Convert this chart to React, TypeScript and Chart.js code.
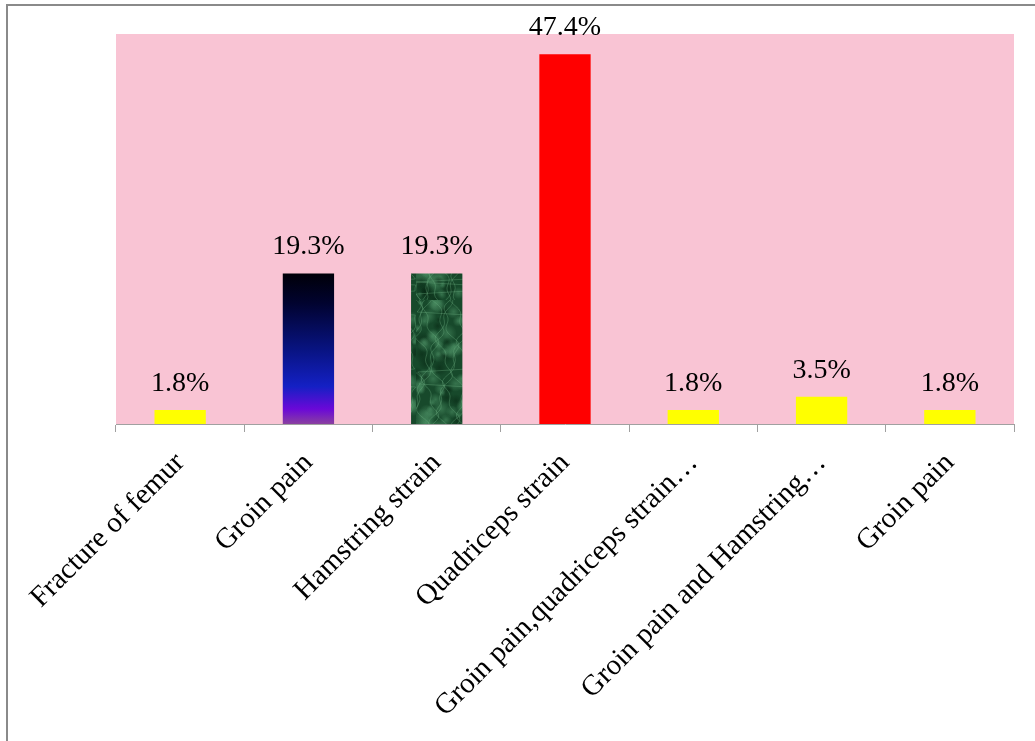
import React, { useEffect, useRef } from "react";
import { Chart, registerables } from "chart.js";

Chart.register(...registerables);

const categories = [
  "Fracture of femur",
  "Groin pain",
  "Hamstring strain",
  "Quadriceps strain",
  "Groin pain,quadriceps strain…",
  "Groin pain and Hamstring…",
  "Groin pain",
];
const percentValues = [1.8, 19.3, 19.3, 47.4, 1.8, 3.5, 1.8];
const valueLabels = ["1.8%", "19.3%", "19.3%", "47.4%", "1.8%", "3.5%", "1.8%"];

const SERIF = '"Liberation Serif", "Times New Roman", serif';
const PINK = "#f9c4d4";

function frac(v: number) {
  return v - Math.floor(v);
}

function makeMarblePattern(ctx: CanvasRenderingContext2D): CanvasPattern | string {
  const W = 52;
  const H = 150;
  const c = document.createElement("canvas");
  c.width = W;
  c.height = H;
  const g = c.getContext("2d");
  if (!g) return "#1f5a35";
  g.fillStyle = "#17492b";
  g.fillRect(0, 0, W, H);
  // mottled blobs (deterministic texture)
  for (let k = 0; k < 90; k++) {
    const x = frac(Math.sin(k * 12.9898) * 43758.5453) * W;
    const y = frac(Math.sin(k * 78.233) * 12345.6789) * H;
    const r = 3 + frac(Math.sin(k * 3.7) * 999.1) * 7;
    const light = k % 3 !== 0;
    const grad = g.createRadialGradient(x, y, 0, x, y, r);
    grad.addColorStop(0, light ? "rgba(80,150,105,0.55)" : "rgba(8,40,20,0.6)");
    grad.addColorStop(1, light ? "rgba(80,150,105,0)" : "rgba(8,40,20,0)");
    g.fillStyle = grad;
    g.beginPath();
    g.arc(x, y, r, 0, Math.PI * 2);
    g.fill();
  }
  // thin veins
  for (let k = 0; k < 8; k++) {
    g.beginPath();
    const phase = k * 1.9;
    for (let y = 0; y <= H; y += 3) {
      const x = (k * 7 + 6 * Math.sin(y / 11 + phase) + 3 * Math.sin(y / 4 + phase)) % W;
      if (y === 0) g.moveTo(x, y);
      else g.lineTo(x, y);
    }
    g.strokeStyle = "rgba(110,175,130,0.35)";
    g.lineWidth = 1;
    g.stroke();
  }
  return ctx.createPattern(c, "repeat") || "#1f5a35";
}

export default function App() {
  const canvasRef = useRef<HTMLCanvasElement | null>(null);

  useEffect(() => {
    const canvas = canvasRef.current;
    if (!canvas) return;
    const ctx = canvas.getContext("2d");
    if (!ctx) return;
    const marble = makeMarblePattern(ctx);

    const plotBg = {
      id: "plotBg",
      beforeDatasetsDraw(chart: any) {
        const { ctx: c, chartArea } = chart;
        c.save();
        c.fillStyle = PINK;
        c.fillRect(chartArea.left, chartArea.top, chartArea.right - chartArea.left, chartArea.bottom - chartArea.top);
        c.restore();
      },
    };

    const valueLabelPlugin = {
      id: "valueLabels",
      afterDatasetsDraw(chart: any) {
        const c = chart.ctx;
        const meta = chart.getDatasetMeta(0);
        c.save();
        c.font = `28px ${SERIF}`;
        c.fillStyle = "#000";
        c.textAlign = "center";
        c.textBaseline = "alphabetic";
        meta.data.forEach((el: any, i: number) => {
          c.fillText(valueLabels[i], el.x, el.y - 19);
        });
        c.restore();
      },
    };

    const chart = new Chart(canvas, {
      type: "bar",
      data: {
        labels: categories,
        datasets: [
          {
            data: percentValues,
            backgroundColor: (context: any) => {
              const i = context.dataIndex;
              if (i === 3) return "#ff0000";
              if (i === 2) return marble;
              if (i === 1) {
                const ch = context.chart;
                const y = ch.scales && ch.scales.y;
                if (!y) return "#1020c0";
                const top = y.getPixelForValue(percentValues[1]);
                const bottom = y.getPixelForValue(0);
                const gr = ch.ctx.createLinearGradient(0, top, 0, bottom);
                gr.addColorStop(0, "#000008");
                gr.addColorStop(0.2, "#010330");
                gr.addColorStop(0.5, "#081380");
                gr.addColorStop(0.75, "#1420c4");
                gr.addColorStop(0.9, "#6a08d8");
                gr.addColorStop(1, "#8a40a0");
                return gr;
              }
              return "#ffff00";
            },
            borderWidth: 0,
            categoryPercentage: 1,
            barPercentage: 0.4,
          },
        ],
      },
      options: {
        animation: false,
        responsive: false,
        layout: { padding: { left: 116, top: 34, right: 21, bottom: 0 } },
        plugins: {
          legend: { display: false },
          tooltip: { enabled: false },
        },
        scales: {
          x: {
            offset: true,
            grid: {
              display: true,
              offset: true,
              drawOnChartArea: false,
              drawTicks: true,
              tickLength: 8,
              color: "#a0a0a0",
            },
            border: { display: true, color: "#a0a0a0", width: 1 },
            ticks: {
              autoSkip: false,
              maxRotation: 45,
              minRotation: 45,
              padding: 14,
              color: "#000",
              font: { family: SERIF, size: 29 },
            },
            afterFit(scale: any) {
              scale.height = 741 - 424;
            },
          },
          y: {
            display: false,
            min: 0,
            max: 50,
          },
        },
      },
      plugins: [plotBg, valueLabelPlugin],
    });

    return () => {
      chart.destroy();
    };
  }, []);

  return (
    <div
      style={{
        position: "fixed",
        left: 0,
        top: 0,
        width: 1035,
        height: 741,
        background: "#fff",
        overflow: "hidden",
      }}
    >
      <canvas
        ref={canvasRef}
        width={1035}
        height={741}
        style={{ position: "absolute", left: 0, top: 0, width: 1035, height: 741 }}
      />
      <div
        style={{
          position: "absolute",
          left: 6,
          top: 4,
          width: 1035,
          height: 741,
          borderTop: "2px solid #8a8a8a",
          borderLeft: "2px solid #8a8a8a",
          pointerEvents: "none",
        }}
      />
    </div>
  );
}
